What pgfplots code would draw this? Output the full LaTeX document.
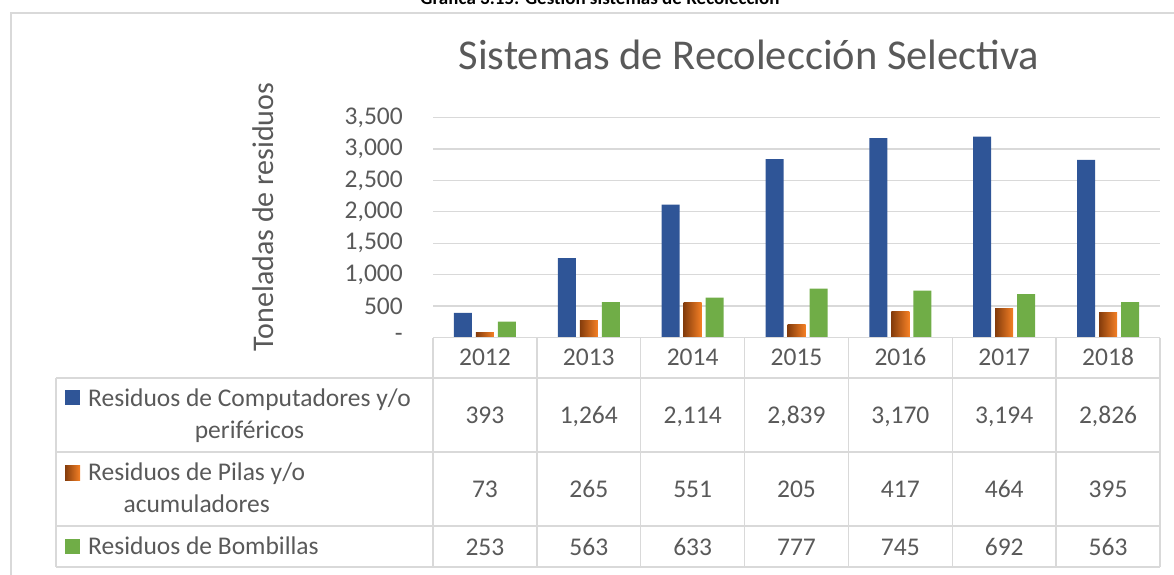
\documentclass[border=0pt]{standalone}
\usepackage{fontspec}
\setmainfont{Carlito}
\usepackage{pgfplots}
\usepackage{pgfplotstable}
\pgfplotsset{compat=1.18}

\definecolor{cblue}{HTML}{2F5597}
\definecolor{cgreen}{HTML}{70AD47}
\definecolor{odark}{HTML}{843C0C}
\definecolor{olight}{HTML}{F58025}
\definecolor{txtgray}{HTML}{595959}
\definecolor{gridgray}{HTML}{D9D9D9}

\newcommand\tf{\fontsize{25.5}{30}\selectfont}

% x = column index, values in tonnes
\pgfplotstableread{
x year comp pilas bomb
0 2012 393 73 253
1 2013 1264 265 563
2 2014 2114 551 633
3 2015 2839 205 777
4 2016 3170 417 745
5 2017 3194 464 692
6 2018 2826 395 563
}\data

\begin{document}
\begin{tikzpicture}
\begin{axis}[
  at={(433pt,-337.5pt)}, anchor=south west,
  scale only axis, width=727pt, height=220pt,
  xmin=-0.5, xmax=6.5, ymin=0, ymax=3500,
  clip=false,
  axis x line*=bottom, axis y line*=left,
  axis line style={draw=none},
  major tick length=0pt,
  xtick=\empty,
  ytick={0,500,...,3500},
  yticklabels={-,500,{1,000},{1,500},{2,000},{2,500},{3,000},{3,500}},
  yticklabel style={font=\tf, text=txtgray, anchor=east, inner sep=0pt, xshift=-30pt},
  ymajorgrids, grid style={draw=gridgray, line width=1.3pt},
  /pgf/number format/fixed, /pgf/number format/precision=0,
  /pgf/number format/1000 sep={,},
  /pgf/number format/assume math mode=true,
  tabtext/.style={draw=none, mark=none, nodes near coords,
    every node near coord/.append style={anchor=center, font=\tf, text=txtgray,
      inner sep=0pt, text height=0.63em, text depth=0pt, yshift=-5pt}},
]
\addplot[ybar, bar width=18pt, bar shift=-22pt, draw=none, fill=cblue] table[x=x, y=comp] {\data};
% one plot per bar so that each bar gets its own gradient
\pgfplotsinvokeforeach{0,...,6}{
  \addplot[ybar, bar width=18pt, bar shift=0pt, draw=none, left color=odark, right color=olight,
    x filter/.expression={\coordindex==#1 ? x : nan}] table[x=x, y=pilas] {\data};
}
\addplot[ybar, bar width=18pt, bar shift=22pt, draw=none, fill=cgreen] table[x=x, y=bomb] {\data};

% data table under the chart
\addplot[tabtext, point meta=explicit symbolic] table[x=x, y expr=-310, meta=year] {\data};
\addplot[tabtext, point meta=explicit] table[x=x, y expr=-1233, meta=comp] {\data};
\addplot[tabtext, point meta=explicit] table[x=x, y expr=-2410, meta=pilas] {\data};
\addplot[tabtext, point meta=explicit] table[x=x, y expr=-3333, meta=bomb] {\data};
\end{axis}

% table borders
\begin{scope}[draw=gridgray, line width=1.5pt]
  \draw (433pt,-337.5pt) -- (1160pt,-337.5pt);
  \foreach \y in {378,452,526,567} \draw (56pt,-\y pt) -- (1160pt,-\y pt);
  \draw (56pt,-378pt) -- (56pt,-567pt);
  \foreach \i in {0,...,7} {
    \pgfmathsetmacro\xx{433+\i*103.86}
    \draw (\xx pt,-337.5pt) -- (\xx pt,-567pt);
  }
  % chart area frame
  \draw (11pt,-580pt) -- (11pt,-13pt) -- (1180pt,-13pt);
\end{scope}

% legend keys and row labels
\fill[cblue] (65pt,-390pt) rectangle (80pt,-405pt);
\shade[left color=odark, right color=olight] (65pt,-465pt) rectangle (80pt,-480pt);
\fill[cgreen] (65pt,-539pt) rectangle (80pt,-554pt);
\begin{scope}[every node/.style={font=\tf, text=txtgray, inner sep=0pt}]
  \node[anchor=base west] (l1) at (88pt,-406pt) {Residuos de Computadores y/o};
  \node[anchor=base] at (l1.base |- 0,-438pt) {periféricos};
  \node[anchor=base west] (l2) at (88pt,-480pt) {Residuos de Pilas y/o};
  \node[anchor=base] at (l2.base |- 0,-512pt) {acumuladores};
  \node[anchor=base west] at (88pt,-554pt) {Residuos de Bombillas};
  % titles
  \node[anchor=base, font=\fontsize{42.5}{48}\selectfont] at (749pt,-69pt) {Sistemas de Recolección Selectiva};
  \node[anchor=base, rotate=90, font=\fontsize{30}{36}\selectfont] at (273pt,-217pt) {Toneladas de residuos};
  \node[anchor=base, text=black, font=\bfseries\fontsize{19}{22}\selectfont] at (600pt,-4pt) {Gráfica 3.15: Gestión sistemas de Recolección};
\end{scope}

\pgfresetboundingbox
\useasboundingbox (0,0) rectangle (1174pt,-574pt);
\end{tikzpicture}
\end{document}
